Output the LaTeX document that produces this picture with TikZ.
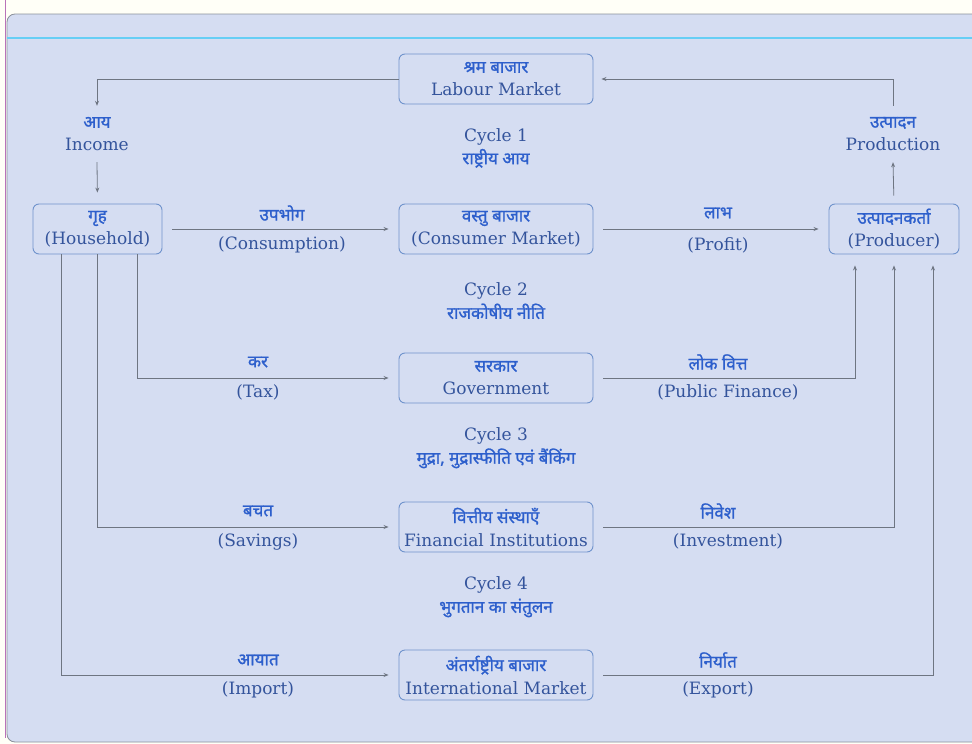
\documentclass[tikz,border=0pt]{standalone}
\usepackage{fontspec}
\setmainfont{DejaVu Serif}
\newfontfamily\hi[Script=Devanagari, FakeBold=1.2]{Noto Sans}
\usetikzlibrary{arrows.meta}
\definecolor{bg}{HTML}{D5DDF2}
\definecolor{boxc}{HTML}{6F93CC}
\definecolor{linec}{HTML}{6E7582}
\definecolor{hic}{HTML}{2D5FCC}
\definecolor{enc}{HTML}{34549C}
\newcommand{\tl}[2]{{\hi\fontsize{17}{17}\selectfont\color{hic}#1}\\{\color{enc}#2}}
\newcommand{\hit}[1]{{\hi\fontsize{17}{17}\selectfont\color{hic}#1}}
\newcommand{\ent}[1]{{\color{enc}#1}}
\tikzset{
  box/.style={draw=boxc, rounded corners=6pt, line width=0.9pt, minimum width=194pt, minimum height=50pt, align=center, inner sep=0pt, font=\fontsize{17}{23}\selectfont},
  txt/.style={align=center, inner sep=0pt, font=\fontsize{17}{23}\selectfont},
  conn/.style={draw=linec, line width=0.8pt, -{Stealth[length=5pt,width=4pt]}}
}
\begin{document}
\begin{tikzpicture}[x=1pt,y=-1pt]
\useasboundingbox (0,0) rectangle (972,744);
\fill[white!97!yellow] (0,0) rectangle (972,744);
\draw[fill=bg, draw=linec!80, line width=0.8pt, rounded corners=8pt] (7,14) rectangle (985,742);
\draw[violet!55, line width=0.8pt] (5,0) -- (5,738);
\draw[cyan!60, line width=1.5pt] (7,38) -- (972,38);

% boxes
\node[box] (labour) at (496,79) {\tl{श्रम बाजार}{Labour Market}};
\node[box] (cm) at (496,229) {\tl{वस्तु बाजार}{(Consumer Market)}};
\node[box] (gov) at (496,378) {\tl{सरकार}{Government}};
\node[box] (fin) at (496,527) {\tl{वित्तीय संस्थाएँ}{Financial Institutions}};
\node[box] (intl) at (496,675) {\tl{अंतर्राष्ट्रीय बाजार}{International Market}};
\node[box, minimum width=129pt] (hh) at (97.5,229) {\tl{गृह}{(Household)}};
\node[box, minimum width=130pt] (pr) at (894,229) {\tl{उत्पादनकर्ता}{(Producer)}};

% free labels
\node[txt, minimum height=56pt] (income) at (97,134) {\tl{आय}{Income}};
\node[txt, minimum height=56pt] (prodn) at (893,134) {\tl{उत्पादन}{Production}};
\node[txt] (c1) at (496,148) {\ent{Cycle 1}\\\hit{राष्ट्रीय आय}};
\node[txt] (c2) at (496,301) {\ent{Cycle 2}\\\hit{राजकोषीय नीति}};
\node[txt] (c3) at (496,448) {\ent{Cycle 3}\\\hit{मुद्रा, मुद्रास्फीति एवं बैंकिंग}};
\node[txt] (c4) at (496,597) {\ent{Cycle 4}\\\hit{भुगतान का संतुलन}};

% edge labels
\node[txt] (l1a) at (282,213) {\hit{उपभोग}};
\node[txt] (l1b) at (282,245) {\ent{(Consumption)}};
\node[txt] (l2a) at (718,213) {\hit{लाभ}};
\node[txt] (l2b) at (718,245) {\ent{(Profit)}};
\node[txt] (l3a) at (258,362) {\hit{कर}};
\node[txt] (l3b) at (258,392) {\ent{(Tax)}};
\node[txt] (l4a) at (718,362) {\hit{लोक वित्त}};
\node[txt] (l4b) at (728,392) {\ent{(Public Finance)}};
\node[txt] (l5a) at (258,511) {\hit{बचत}};
\node[txt] (l5b) at (258,542) {\ent{(Savings)}};
\node[txt] (l6a) at (718,511) {\hit{निवेश}};
\node[txt] (l6b) at (728,541) {\ent{(Investment)}};
\node[txt] (l7a) at (258,660) {\hit{आयात}};
\node[txt] (l7b) at (258,690) {\ent{(Import)}};
\node[txt] (l8a) at (718,660) {\hit{निर्यात}};
\node[txt] (l8b) at (718,690) {\ent{(Export)}};

% connectors
\draw[conn] (labour.west) -| (income.north);
\draw[conn, shorten >=11pt] (income.south) -- (hh.north);
\draw[conn, shorten <=8pt] (pr.north) -- (prodn.south);
\draw[conn] (prodn.north) |- ([xshift=8pt]labour.east);
\draw[conn, shorten <=10pt, shorten >=10pt] (hh.east) -- (cm.west);
\draw[conn, shorten <=10pt, shorten >=10pt] (cm.east) -- (pr.west);
\draw[conn, shorten >=10pt] ([xshift=40pt]hh.south) |- (gov.west);
\draw[conn, shorten >=10pt] (hh.south) |- (fin.west);
\draw[conn, shorten >=10pt] ([xshift=-36pt]hh.south) |- (intl.west);
\draw[conn, shorten <=10pt, shorten >=11pt] (gov.east) -| ([xshift=-39pt]pr.south);
\draw[conn, shorten <=10pt, shorten >=11pt] (fin.east) -| (pr.south);
\draw[conn, shorten <=10pt, shorten >=11pt] (intl.east) -| ([xshift=39pt]pr.south);
\end{tikzpicture}
\end{document}
